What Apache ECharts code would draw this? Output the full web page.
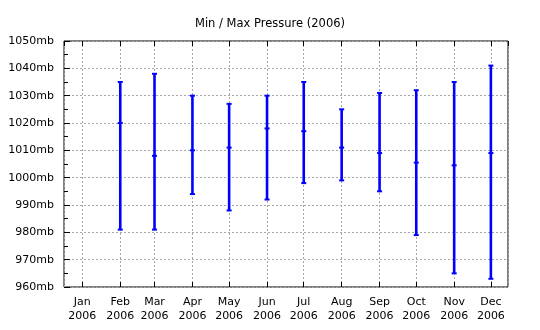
<!DOCTYPE html>
<html><head><meta charset="utf-8">
<script src="https://cdn.jsdelivr.net/npm/echarts@6/dist/echarts.min.js"></script>
<style>html,body{margin:0;padding:0;background:#fff}#c{width:540px;height:330px}</style>
</head><body><div id="c"></div>
<script>
var months = ['2006-02-01','2006-03-01','2006-04-01','2006-05-01','2006-06-01','2006-07-01','2006-08-01','2006-09-01','2006-10-01','2006-11-01','2006-12-01'];
var maxP  = [1035, 1038, 1030, 1027, 1030, 1035, 1025, 1031, 1032, 1035, 1041];
var meanP = [1020, 1008, 1010, 1011, 1018, 1017, 1011, 1009, 1005.5, 1004.5, 1009];
var minP  = [981, 981, 994, 988, 992, 998, 999, 995, 979, 965, 963];
var monthNames = ['Jan','Feb','Mar','Apr','May','Jun','Jul','Aug','Sep','Oct','Nov','Dec'];

function toTs(s){var p=s.split('-');return new Date(+p[0],+p[1]-1,+p[2]).getTime();}
var data = months.map(function(m,i){return [toTs(m), minP[i], maxP[i], meanP[i]];});
var FONT = 'DejaVu Sans';
var chart = echarts.init(document.getElementById('c'), null, {renderer:'canvas'});
var xCommon = {
  type:'time',
  min: new Date(2005,11,17).getTime(),
  max: new Date(2006,11,15).getTime(),
  splitNumber: 12,
  minInterval: 28*86400000,
  maxInterval: 31*86400000
};
var gridLine = {show:true, lineStyle:{color:'#a6a6a6', type:[2,2], width:1}};
chart.setOption({
  animation:false,
  title:{text:'Min / Max Pressure (2006)', left:'center', top:13,
    textStyle:{fontFamily:FONT, fontSize:11.5, fontWeight:'normal', color:'#000'}},
  grid:{left:64, top:41, width:444, height:246, show:true, borderColor:'#000', borderWidth:1, backgroundColor:'transparent'},
  xAxis:[
    Object.assign({}, xCommon, {
      position:'bottom',
      axisLine:{show:false},
      axisTick:{show:true, inside:true, length:5, lineStyle:{color:'#000'}},
      splitLine:gridLine,
      axisLabel:{fontFamily:FONT, fontSize:11, color:'#000', lineHeight:14, margin:8,
        formatter:function(v){var d=new Date(v);return monthNames[d.getMonth()]+'\n'+d.getFullYear();}}
    }),
    Object.assign({}, xCommon, {
      position:'top',
      axisLine:{show:false},
      axisTick:{show:true, inside:true, length:5, lineStyle:{color:'#000'}},
      splitLine:{show:false},
      axisLabel:{show:false}
    })
  ],
  yAxis:{
    type:'value', min:960, max:1050, interval:10,
    axisLine:{show:false},
    axisTick:{show:true, inside:true, length:6, lineStyle:{color:'#000'}},
    minorTick:{show:true, splitNumber:2, length:4, lineStyle:{color:'#000'}},
    splitLine:gridLine,
    axisLabel:{fontFamily:FONT, fontSize:11, color:'#000', margin:10,
      formatter:function(v){return v + 'mb';}}
  },
  series:[{
    type:'custom',
    xAxisIndex:0,
    data:data,
    encode:{x:0, y:[1,2,3]},
    renderItem:function(params, api){
      var x = api.value(0);
      var lo = api.coord([x, api.value(1)]);
      var hi = api.coord([x, api.value(2)]);
      var me = api.coord([x, api.value(3)]);
      var cw = 2.5;
      var st = {stroke:'#0000ff', lineWidth:2};
      return {type:'group', children:[
        {type:'line', shape:{x1:lo[0], y1:lo[1], x2:hi[0], y2:hi[1]}, style:{stroke:'#0000ff', lineWidth:2.6}},
        {type:'line', shape:{x1:lo[0]-cw, y1:lo[1], x2:lo[0]+cw, y2:lo[1]}, style:st},
        {type:'line', shape:{x1:hi[0]-cw, y1:hi[1], x2:hi[0]+cw, y2:hi[1]}, style:st},
        {type:'line', shape:{x1:me[0]-cw, y1:me[1], x2:me[0]+cw, y2:me[1]}, style:st}
      ]};
    }
  }]
});
</script></body></html>
